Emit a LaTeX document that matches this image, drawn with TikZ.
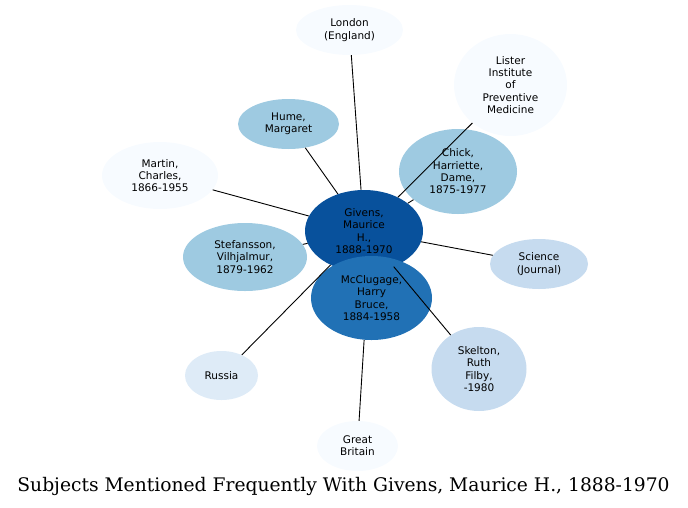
\documentclass[tikz,border=0pt]{standalone}
\usepackage{fontspec}
\setsansfont{DejaVu Sans}
\newfontfamily\titlefont{DejaVu Serif}
\usetikzlibrary{shapes.geometric}
\definecolor{blueA}{HTML}{F7FBFF}
\definecolor{blueB}{HTML}{DEEBF7}
\definecolor{blueC}{HTML}{C6DBEF}
\definecolor{blueD}{HTML}{9ECAE1}
\definecolor{blueE}{HTML}{2171B5}
\definecolor{blueF}{HTML}{08519C}
\tikzset{
  subj/.style={ellipse, inner sep=0pt, align=center, font=\sffamily\fontsize{10.5}{12.3}\selectfont},
  link/.style={draw=black, line width=0.9pt}
}
\begin{document}
\begin{tikzpicture}[x=1pt, y=-1pt]
\useasboundingbox (0,0) rectangle (688,507);
% subjects
\node[subj, fill=blueA, minimum width=107, minimum height=50] (london) at (349.5,30) {London\\(England)};
\node[subj, fill=blueA, minimum width=113, minimum height=102] (lister) at (510.5,85) {Lister\\Institute\\of\\Preventive\\Medicine};
\node[subj, fill=blueD, minimum width=101, minimum height=50] (hume) at (288.5,124) {Hume,\\Margaret};
\node[subj, fill=blueD, minimum width=118, minimum height=85] (chick) at (458,171.5) {Chick,\\Harriette,\\Dame,\\1875-1977};
\node[subj, fill=blueA, minimum width=116, minimum height=67] (martin) at (160,175.5) {Martin,\\Charles,\\1866-1955};
\node[subj, fill=blueF, minimum width=118, minimum height=82] (givens) at (364,231) {Givens,\\Maurice\\H.,\\1888-1970};
\node[subj, fill=blueD, minimum width=124, minimum height=68] (stef) at (245,257) {Stefansson,\\Vilhjalmur,\\1879-1962};
\node[subj, fill=blueC, minimum width=98, minimum height=50] (science) at (539,264) {Science\\(Journal)};
\node[subj, fill=blueE, minimum width=121, minimum height=84] (mcc) at (371.5,298) {McClugage,\\Harry\\Bruce,\\1884-1958};
\node[subj, fill=blueC, minimum width=95, minimum height=84] (skelton) at (479,369) {Skelton,\\Ruth\\Filby,\\-1980};
\node[subj, fill=blueB, minimum width=73, minimum height=49] (russia) at (221.5,375.5) {Russia};
\node[subj, fill=blueA, minimum width=81, minimum height=50] (britain) at (357.5,446) {Great\\Britain};
% links
\foreach \other in {london,lister,hume,chick,martin,stef,science,skelton,russia}
  \draw[link] (givens) -- (\other);
\draw[link] (mcc.-100) -- (britain);
\node[font=\titlefont\fontsize{18.7}{21}\selectfont, anchor=base, inner sep=0pt] (title) at (343.5,491) {Subjects Mentioned Frequently With Givens, Maurice H., 1888-1970};
\end{tikzpicture}
\end{document}
